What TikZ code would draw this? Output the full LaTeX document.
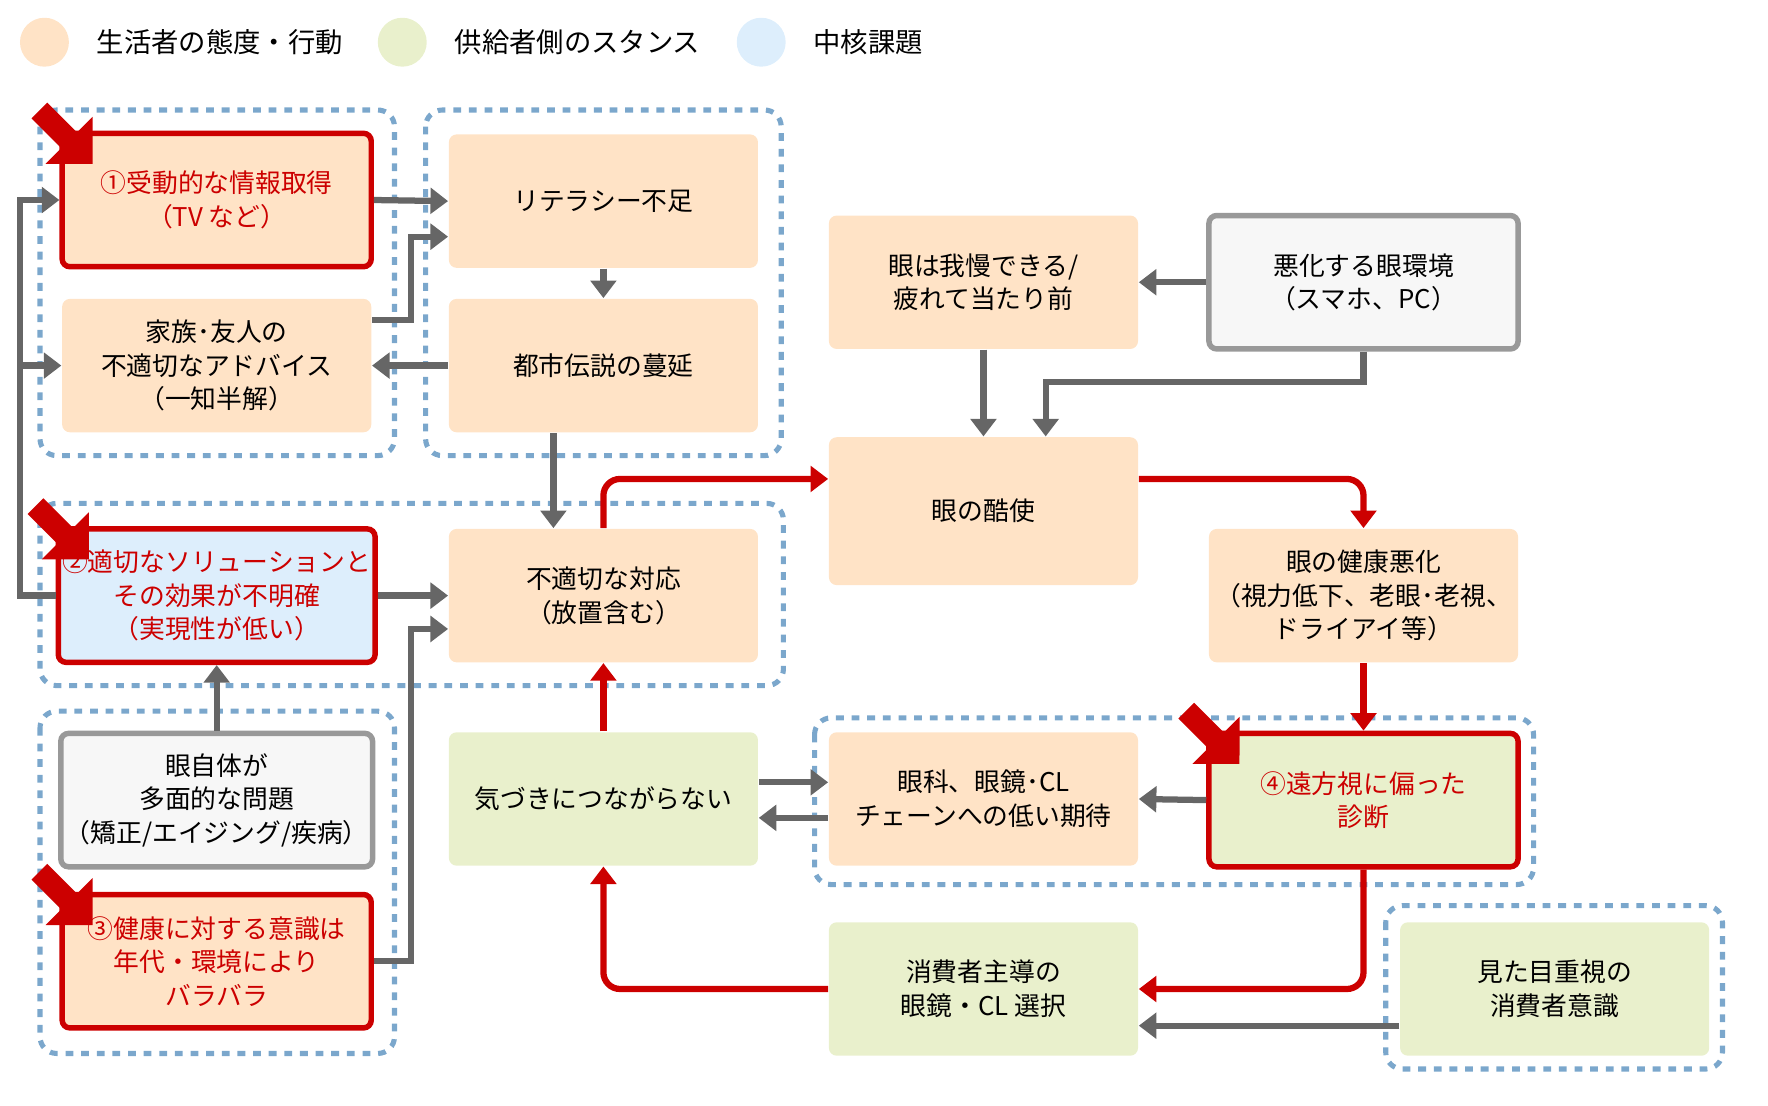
\documentclass[tikz,border=0pt]{standalone}
\usepackage{fontspec}
\setmainfont{Noto Sans CJK JP}
\usetikzlibrary{arrows.meta, calc, positioning}

\definecolor{cOrange}{HTML}{FFE3C6}
\definecolor{cGreen}{HTML}{E9F0CC}
\definecolor{cBlue}{HTML}{DDEEFC}
\definecolor{cRed}{HTML}{CC0000}
\definecolor{cGray}{HTML}{666666}
\definecolor{cLine}{HTML}{7BA7CC}

\tikzset{
  box/.style={rectangle, rounded corners=0.07cm, minimum width=2.78cm, minimum height=1.2cm,
    align=center, font=\fontsize{6.6}{8.6}\selectfont, inner sep=1pt},
  life/.style={box, fill=cOrange},
  supply/.style={box, fill=cGreen},
  hot/.style={line width=1.4pt, draw=cRed, text=cRed},
  plain/.style={box, fill=black!3, draw=black!40, line width=1.4pt},
  group/.style={draw=cLine, line width=1.3pt, dash pattern=on 2pt off 2pt, rounded corners=0.15cm},
  link/.style={draw=cGray, line width=1.6pt, -{Triangle[length=4.5pt,width=6.5pt]}},
  redlink/.style={draw=cRed, line width=1.6pt, rounded corners=0.15cm, -{Triangle[length=4.5pt,width=6.5pt]}},
  legend/.style={circle, minimum size=0.44cm, inner sep=0pt},
}
\newcommand{\hotmark}[1]{%
  \draw[cRed, line width=0.2cm, -{Triangle[length=0.3cm,width=0.58cm]}]
    ($(#1.north west)+(-18,-18)$) -- ($(#1.north west)+(30,30)$);}

\begin{document}
\begin{tikzpicture}[x=0.01cm, y=-0.01cm]
\useasboundingbox (0,0) rectangle (1591,995);

% legend
\node (l1) [legend, fill=cOrange] at (40,38) {};
\node [right=0.12cm of l1, font=\fontsize{7}{8}\selectfont] {生活者の態度・行動};
\node (l2) [legend, fill=cGreen] at (362,38) {};
\node [right=0.12cm of l2, font=\fontsize{7}{8}\selectfont] {供給者側のスタンス};
\node (l3) [legend, fill=cBlue] at (685,38) {};
\node [right=0.12cm of l3, font=\fontsize{7}{8}\selectfont] {中核課題};

% groups
\draw[group] (36,99) rectangle (355,410);
\draw[group] (383,99) rectangle (703,410);
\draw[group] (36,453) rectangle (705,617);
\draw[group] (36,640) rectangle (355,948);
\draw[group] (733,646) rectangle (1380,796);
\draw[group] (1247,815) rectangle (1550,962);

% nodes
\node (info) [life, hot] at (195,180) {①受動的な情報取得\\（TV など）};
\node (advice) [life] at (195,329) {家族･友人の\\不適切なアドバイス\\（一知半解）};
\node (literacy) [life] at (543,181) {リテラシー不足};
\node (legend) [life] at (543,329) {都市伝説の蔓延};
\node (endure) [life] at (885,254) {眼は我慢できる/\\疲れて当たり前};
\node (env) [plain] at (1227,254) {悪化する眼環境\\（スマホ、PC）};
\node (overuse) [life, minimum height=1.33cm] at (885,460) {眼の酷使};
\node (solution) [box, fill=cBlue, hot] at (195,536) {②適切なソリューションと\\その効果が不明確\\（実現性が低い）};
\node (respond) [life] at (543,536) {不適切な対応\\（放置含む）};
\node (health) [life] at (1227,536) {眼の健康悪化\\（視力低下、老眼･老視、\\ドライアイ等）};
\node (multi) [plain] at (195,720) {眼自体が\\多面的な問題\\（矯正/エイジング/疾病）};
\node (notice) [supply] at (543,719) {気づきにつながらない};
\node (expect) [life] at (885,719) {眼科、眼鏡･CL\\チェーンへの低い期待};
\node (diag) [supply, hot] at (1227,720) {④遠方視に偏った\\診断};
\node (aware) [life, hot] at (195,865) {③健康に対する意識は\\年代・環境により\\バラバラ};
\node (choice) [supply] at (885,890) {消費者主導の\\眼鏡・CL 選択};
\node (looks) [supply] at (1399,890) {見た目重視の\\消費者意識};

% gray links
\draw[link] (info.east) -- (literacy.west);
\draw[link] ($(advice.north east)+(0,20)$) -| (370,213) -- (literacy.west |- 0,213);
\draw[link] (literacy) -- (legend);
\draw[link] (legend.west) -- (advice.east);
\draw[link] (solution.west) -| (18,180) -- (info.west);
\draw[link] (18,329) -- (advice.west);
\draw[link] (legend.south -| 498,0) -- (respond.north -| 498,0);
\draw[link] (solution.east) -- (respond.west);
\draw[link] (aware.east) -| (370,566) -- (respond.west |- 0,566);
\draw[link] (multi) -- (solution);
\draw[link] (endure) -- (overuse);
\draw[link] (env.west) -- (endure.east);
\draw[link] (env.south) |- (941,344) -- (overuse.north -| 941,0);
\draw[link] ($(notice.east)+(0,-15)$) -- ($(expect.west)+(0,-15)$);
\draw[link] ($(expect.west)+(0,17)$) -- ($(notice.east)+(0,17)$);
\draw[link] (diag.west) -- (expect.east);
\draw[link] ($(looks.west)+(0,33)$) -- ($(choice.east)+(0,33)$);

% red links
\draw[redlink] (respond.north) |- (overuse.west |- 0,431);
\draw[redlink] (overuse.east |- 0,431) -| (health.north);
\draw[redlink] (health) -- (diag);
\draw[redlink] (notice) -- (respond);
\draw[redlink] (diag.south) |- (choice.east);
\draw[redlink] (choice.west) -| (notice.south);

% marks
\hotmark{info}
\hotmark{solution}
\hotmark{aware}
\hotmark{diag}
\end{tikzpicture}
\end{document}
